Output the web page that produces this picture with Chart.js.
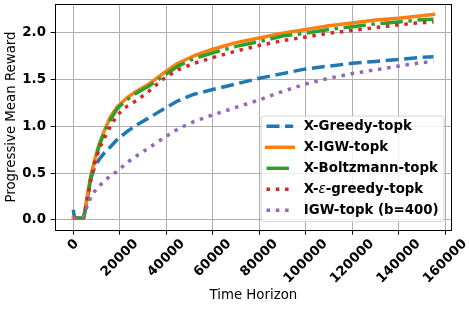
<!DOCTYPE html>
<html><head><meta charset="utf-8">
<script src="https://cdn.jsdelivr.net/npm/chart.js@4/dist/chart.umd.min.js"></script>
<style>html,body{margin:0;padding:0;background:#fff;overflow:hidden}</style>
</head><body>
<canvas id="c" width="469" height="310"></canvas>
<script>
// ---- data ----
const xValues     = [0, 500, 1500, 3000, 4500, 6000, 7500, 9000, 11000, 13500, 16000, 19000, 23000, 27000, 32000, 38000, 45000, 52000, 60000, 70000, 80000, 90000, 100000, 110000, 120000, 130000, 140000, 148000, 155000];
const xGreedy     = [0.11, 0.02, 0.02, 0.02, 0.03, 0.22, 0.44, 0.55, 0.64, 0.72, 0.78, 0.86, 0.94, 1.01, 1.08, 1.17, 1.27, 1.34, 1.39, 1.45, 1.51, 1.56, 1.61, 1.64, 1.67, 1.69, 1.71, 1.73, 1.74];
const xIGW        = [0.02, 0.02, 0.02, 0.02, 0.03, 0.26, 0.47, 0.62, 0.80, 0.96, 1.10, 1.21, 1.30, 1.37, 1.44, 1.55, 1.67, 1.75, 1.82, 1.89, 1.94, 1.99, 2.03, 2.07, 2.10, 2.13, 2.15, 2.17, 2.19];
const xBoltzmann  = [0.02, 0.02, 0.02, 0.02, 0.02, 0.22, 0.44, 0.60, 0.78, 0.95, 1.07, 1.19, 1.28, 1.35, 1.42, 1.52, 1.64, 1.72, 1.78, 1.85, 1.90, 1.96, 1.99, 2.03, 2.06, 2.09, 2.11, 2.13, 2.14];
const xEpsGreedy  = [0.02, 0.02, 0.02, 0.02, 0.03, 0.22, 0.42, 0.58, 0.75, 0.88, 1.00, 1.12, 1.21, 1.27, 1.36, 1.49, 1.60, 1.67, 1.73, 1.80, 1.86, 1.91, 1.95, 1.99, 2.02, 2.05, 2.08, 2.10, 2.11];
const igwB400     = [0.02, 0.02, 0.01, 0.02, 0.04, 0.15, 0.24, 0.30, 0.36, 0.42, 0.47, 0.52, 0.61, 0.68, 0.76, 0.86, 0.97, 1.05, 1.12, 1.20, 1.28, 1.37, 1.45, 1.51, 1.56, 1.60, 1.64, 1.67, 1.69];
const seriesNames = ['X-Greedy-topk', 'X-IGW-topk', 'X-Boltzmann-topk', 'X-\u03b5-greedy-topk', 'IGW-topk (b=400)'];
const xTicks = [0, 20000, 40000, 60000, 80000, 100000, 120000, 140000, 160000];
const yTicks = [0, 0.5, 1.0, 1.5, 2.0];
const xTitle = 'Time Horizon';
const yTitle = 'Progressive Mean Reward';

// ---- styling ----
const FONT = 'DejaVu Sans';
const FS = 13.33;
const LW = 3.5;
const seriesValues = [xGreedy, xIGW, xBoltzmann, xEpsGreedy, igwB400];
const colors = ['#1f77b4', '#ff7f0e', '#2ca02c', '#d62728', '#9467bd'];
const dashes = [[LW*3.7, LW*1.6], [], [LW*6.4, LW*1.6, LW, LW*1.6], [LW, LW*1.65], [LW, LW*1.65]];

const datasets = seriesValues.map((ys, i) => ({
  label: seriesNames[i],
  data: xValues.map((x, j) => ({x: x, y: ys[j]})),
  borderColor: colors[i],
  backgroundColor: colors[i],
  borderWidth: LW,
  borderDash: dashes[i],
  borderCapStyle: dashes[i].length ? 'butt' : 'square',
  borderJoinStyle: 'round',
  pointRadius: 0,
  tension: 0,
  fill: false,
  order: seriesValues.length - i
}));

const framePlugin = {
  id: 'frame',
  afterDatasetsDraw(chart) {
    const ctx = chart.ctx, a = chart.chartArea;
    ctx.save();
    ctx.strokeStyle = '#000';
    ctx.lineWidth = 1;
    const l = Math.floor(a.left) + 0.5, r = Math.floor(a.right) + 0.5;
    const t = Math.floor(a.top) + 0.5, b = Math.floor(a.bottom) + 0.5;
    ctx.strokeRect(l, t, r - l, b - t);
    // rotated x tick labels (centered like matplotlib rotation=45)
    const xs = chart.scales.x;
    ctx.fillStyle = '#000';
    ctx.font = 'bold ' + FS + 'px "' + FONT + '"';
    ctx.textAlign = 'center';
    ctx.textBaseline = 'middle';
    xTicks.forEach(v => {
      const lab = String(v);
      const w = ctx.measureText(lab).width;
      const px = xs.getPixelForValue(v);
      const cy = a.bottom + 11.7 + w * 0.3536;
      ctx.save();
      ctx.translate(px, cy);
      ctx.rotate(-Math.PI / 4);
      ctx.fillText(lab, 0, 0);
      ctx.restore();
    });
    ctx.restore();
  },
  afterDraw(chart) {
    const ctx = chart.ctx, a = chart.chartArea;
    ctx.save();
    const bold = 'bold ' + FS + 'px "' + FONT + '"';
    const ital = 'italic ' + FS + 'px "' + FONT + '"';
    function partsOf(name) {
      const k = name.indexOf('\u03b5');
      if (k < 0) return [[name, bold]];
      return [[name.slice(0, k), bold], ['\u03b5', ital], [name.slice(k + 1), bold]];
    }
    function widthOf(name) {
      let w = 0;
      partsOf(name).forEach(p => { ctx.font = p[1]; w += ctx.measureText(p[0]).width; });
      return w;
    }
    const pad = 0.4 * FS, hl = 2 * FS, htp = 0.8 * FS;
    const maxW = Math.max(...seriesNames.map(widthOf));
    const boxW = pad + hl + htp + maxW + pad;
    const rowH = 21;
    const boxH = 105.7;
    const right = a.right - 7.5, bottom = a.bottom - 8.3;
    const left = right - boxW, top = bottom - boxH;
    const rad = 2.7;
    ctx.beginPath();
    ctx.moveTo(left + rad, top);
    ctx.lineTo(right - rad, top);
    ctx.arcTo(right, top, right, top + rad, rad);
    ctx.lineTo(right, bottom - rad);
    ctx.arcTo(right, bottom, right - rad, bottom, rad);
    ctx.lineTo(left + rad, bottom);
    ctx.arcTo(left, bottom, left, bottom - rad, rad);
    ctx.lineTo(left, top + rad);
    ctx.arcTo(left, top, left + rad, top, rad);
    ctx.closePath();
    ctx.fillStyle = 'rgba(255,255,255,0.8)';
    ctx.fill();
    ctx.strokeStyle = 'rgba(204,204,204,0.8)';
    ctx.lineWidth = 1;
    ctx.stroke();
    seriesNames.forEach((name, i) => {
      const y = top + 10.3 + i * rowH;
      const hx = left + pad;
      ctx.save();
      ctx.strokeStyle = colors[i];
      ctx.lineWidth = LW;
      ctx.setLineDash(dashes[i]);
      ctx.lineCap = dashes[i].length ? 'butt' : 'square';
      ctx.beginPath();
      ctx.moveTo(hx, y);
      ctx.lineTo(hx + hl, y);
      ctx.stroke();
      ctx.restore();
      let tx = hx + hl + htp;
      ctx.fillStyle = '#000';
      ctx.textAlign = 'left';
      ctx.textBaseline = 'middle';
      partsOf(name).forEach(p => {
        ctx.font = p[1];
        ctx.fillText(p[0], tx, y);
        tx += ctx.measureText(p[0]).width;
      });
    });
    ctx.restore();
  }
};

new Chart(document.getElementById('c'), {
  type: 'line',
  data: { datasets: datasets },
  options: {
    responsive: false,
    animation: false,
    events: [],
    devicePixelRatio: 1,
    layout: { padding: { left: 0, right: 17.5, top: 4, bottom: 0 } },
    plugins: { legend: { display: false }, tooltip: { enabled: false }, title: { display: false } },
    scales: {
      x: {
        type: 'linear',
        min: -7750, max: 162750,
        afterBuildTicks: s => { s.ticks = xTicks.map(v => ({ value: v })); },
        afterFit: s => { s.height = 80; s.paddingLeft = 0; s.paddingRight = 0; s.paddingTop = 0; s.paddingBottom = 0; },
        ticks: { display: false },
        grid: { color: '#b0b0b0', lineWidth: 1, drawTicks: true, tickLength: 4.67, tickColor: '#000', tickWidth: 1 },
        border: { display: false },
        title: { display: true, text: xTitle, color: '#000', font: { family: FONT, size: FS }, padding: { top: 0, bottom: 6 } }
      },
      y: {
        type: 'linear',
        min: -0.1066, max: 2.3016,
        afterBuildTicks: s => { s.ticks = yTicks.map(v => ({ value: v })); },
        afterFit: s => { s.width = 55.3; s.paddingTop = 0; s.paddingBottom = 0; s.paddingLeft = 0; s.paddingRight = 0; },
        ticks: { color: '#000', font: { family: FONT, size: FS, weight: 'bold' }, padding: 4.67, callback: v => Number(v).toFixed(1) },
        grid: { color: '#b0b0b0', lineWidth: 1, drawTicks: true, tickLength: 4.67, tickColor: '#000', tickWidth: 1 },
        border: { display: false },
        title: { display: true, text: yTitle, color: '#000', font: { family: FONT, size: FS }, padding: { top: 3.7, bottom: 0 } }
      }
    }
  },
  plugins: [framePlugin]
});
</script>
</body></html>
